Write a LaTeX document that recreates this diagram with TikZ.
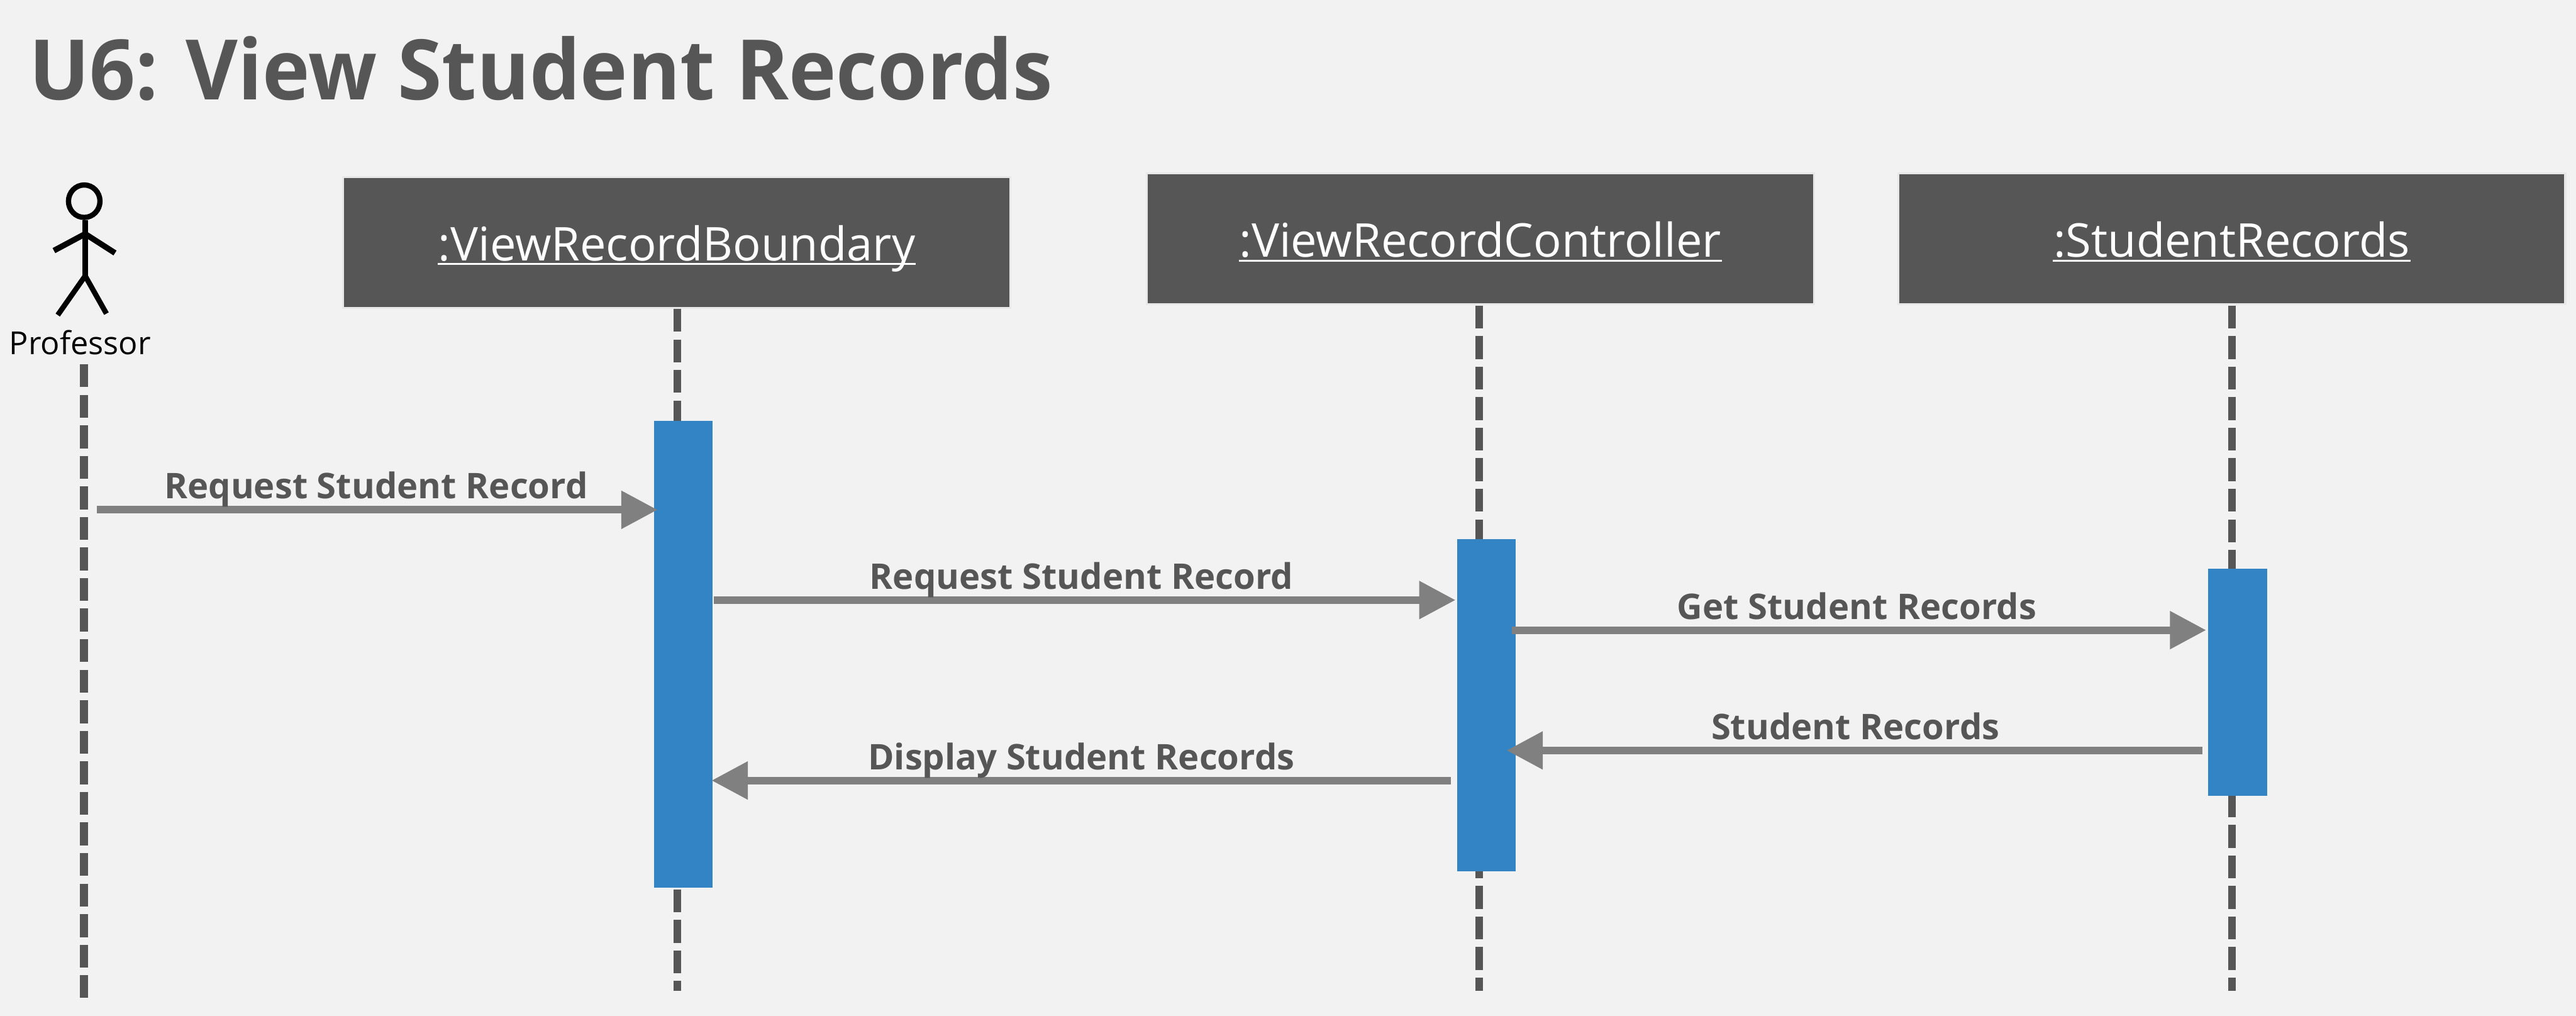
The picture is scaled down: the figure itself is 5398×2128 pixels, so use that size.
\documentclass[tikz,border=0pt]{standalone}
\usepackage{fontspec}
\setmainfont{Open Sans}
\newfontfamily\titlefont[FakeStretch=0.96]{Open Sans}
\usetikzlibrary{arrows.meta}
\definecolor{bgc}{HTML}{F2F2F2}
\definecolor{dark}{HTML}{565656}
\definecolor{barc}{HTML}{3284C4}
\definecolor{arrc}{HTML}{808080}
\tikzset{
  x=0.2pt,y=-0.2pt,
  obj/.style={draw=black!9,line width=0.8pt,fill=dark,minimum width=279.6pt,minimum height=54.8pt,inner sep=0pt},
  objtext/.style={font=\fontsize{19.5}{22}\selectfont,text=white,inner sep=0pt,anchor=base},
  uline/.style={draw=white,line width=0.9pt},
  life/.style={draw=dark,line width=3.2pt,dash pattern=on 9.6pt off 3.2pt},
  act/.style={fill=barc,draw=none,minimum width=24.4pt,inner sep=0pt},
  msg/.style={draw=arrc,line width=3.2pt,-{Triangle[length=15.2pt,width=15.2pt]}},
  lab/.style={text=dark,font=\fontsize{14.8}{17}\bfseries\selectfont,inner sep=0pt,anchor=base},
  stick/.style={draw=black,line width=2.2pt},
}
\begin{document}
\begin{tikzpicture}
\useasboundingbox[fill=bgc] (0,0) rectangle (5398,2128);
\node[text=dark,font=\fontsize{35}{40}\titlefont\bfseries\selectfont,anchor=base west,inner sep=0pt] (title) at (60,209) {U6: View Student Records};
% actor
\coordinate (head) at (176.5,421.5);
\coordinate (neck) at (178.5,461);
\coordinate (hip) at (178.5,578);
\coordinate (sh) at (178.5,490);
\draw[stick] (head) ellipse [x radius=33, y radius=34];
\draw[stick] (neck) -- (hip);
\coordinate (hl) at (113,525);\coordinate (hr) at (241,530);
\coordinate (fl) at (121,660);\coordinate (fr) at (223,657);
\draw[stick,line width=2.4pt] (hl) -- (sh) -- (hr);
\draw[stick] (fl) -- (hip) -- (fr);
\node[font=\fontsize{13.3}{16}\selectfont,anchor=base,inner sep=0pt,text=black] (prof) at (168,742) {Professor};
% objects
\node[obj] (o1) at (1418,508) {};
\node[obj] (o2) at (3102,500.5) {};
\node[obj] (o3) at (4676.5,500.5) {};
\node[objtext] (t1) at (1418,546) {:ViewRecordBoundary};
\node[objtext] (t2) at (3102,539) {:ViewRecordController};
\node[objtext] (t3) at (4676.5,539) {:StudentRecords};
\draw[uline] ([yshift=-1.4pt]t1.base west) -- ([yshift=-1.4pt]t1.base east);
\draw[uline] ([yshift=-1.4pt]t2.base west) -- ([yshift=-1.4pt]t2.base east);
\draw[uline] ([yshift=-1.4pt]t3.base west) -- ([yshift=-1.4pt]t3.base east);
% lifelines
\coordinate (l0s) at (176,763);\coordinate (l0e) at (176,2090);
\coordinate (l1s) at (1419,647);\coordinate (l1e) at (1419,2075);
\coordinate (l2s) at (3100,640);\coordinate (l2e) at (3100,2075);
\coordinate (l3s) at (4677,640);\coordinate (l3e) at (4677,2076);
\draw[life] (l0s) -- (l0e);
\draw[life] (l1s) -- (l1e);
\draw[life] (l2s) -- (l2e);
\draw[life] (l3s) -- (l3e);
% activations
\node[act,minimum height=195.4pt] (b1) at (1432,1370.5) {};
\node[act,minimum height=139.2pt] (b2) at (3114.5,1477) {};
\node[act,minimum height=95.2pt,minimum width=24.8pt] (b3) at (4689,1429) {};
% message ends
\coordinate (a1s) at (203,1068);\coordinate (a1e) at (1378,1068);
\coordinate (a2s) at (1496,1257);\coordinate (a2e) at (3050,1257);
\coordinate (a3s) at (3168,1320);\coordinate (a3e) at (4623,1320);
\coordinate (a4s) at (4615,1572);\coordinate (a4e) at (3157,1572);
\coordinate (a5s) at (3040,1635);\coordinate (a5e) at (1491,1635);
\draw[msg] (a1s) -- (a1e);
\draw[msg] (a2s) -- (a2e);
\draw[msg] (a3s) -- (a3e);
\draw[msg] (a4s) -- (a4e);
\draw[msg] (a5s) -- (a5e);
\node[lab] (m1) at (788,1045) {Request Student Record};
\node[lab] (m2) at (2266,1234) {Request Student Record};
\node[lab] (m3) at (3891,1297) {Get Student Records};
\node[lab] (m4) at (3888,1549) {Student Records};
\node[lab] (m5) at (2266,1612) {Display Student Records};
\end{tikzpicture}
\end{document}
